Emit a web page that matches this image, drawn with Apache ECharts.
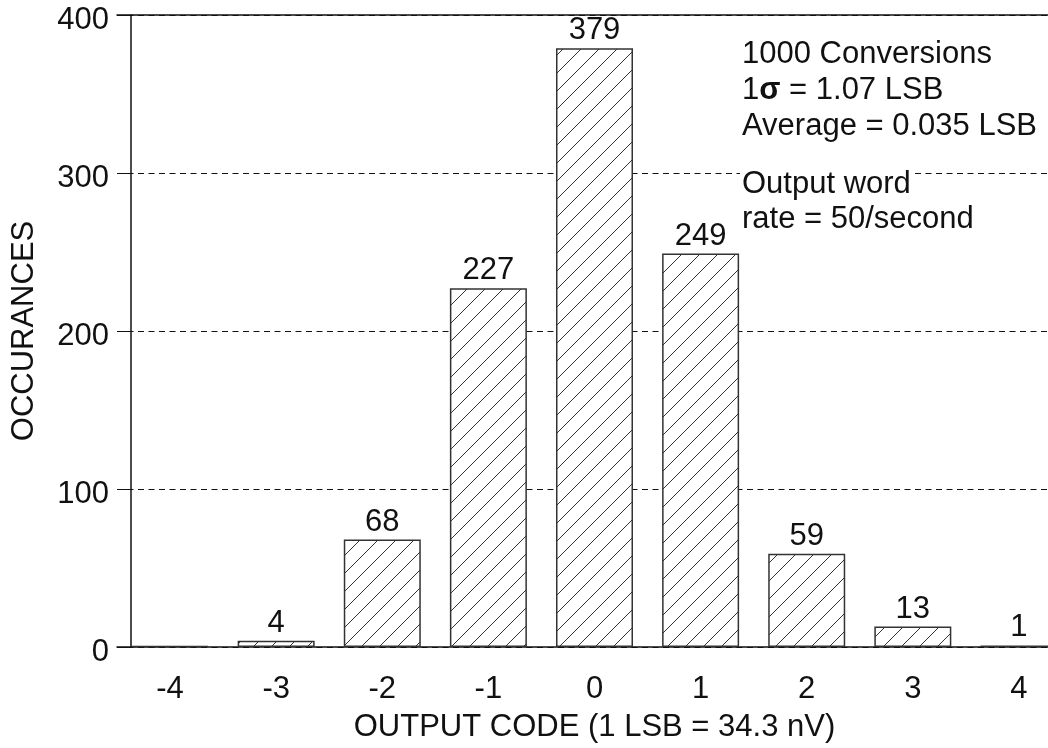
<!DOCTYPE html>
<html>
<head>
<meta charset="utf-8">
<script src="https://cdn.jsdelivr.net/npm/echarts@6/dist/echarts.min.js"></script>
<style>
  html, body { margin: 0; padding: 0; background: #fff; }
  #chart { width: 1048px; height: 748px; }
</style>
</head>
<body>
<div id="chart"></div>
<script>
// data
const codes = ['-4', '-3', '-2', '-1', '0', '1', '2', '3', '4'];
const occurrences = [0, 4, 68, 227, 379, 249, 59, 13, 1];
const yMin = 0;
const yMax = 400;
const yStep = 100;
const noteLines = ['1000 Conversions', '1{s|σ} = 1.07 LSB', 'Average = 0.035 LSB', 'Output word', 'rate = 50/second'];
const noteY = [54, 90, 126, 184, 219];

const FONT = '"Liberation Sans", Arial, sans-serif';
const INK = '#111';
const FS = 31;

// diagonal hatch fill for the bars
const hatch = document.createElement('canvas');
hatch.width = 18;
hatch.height = 18;
const hctx = hatch.getContext('2d');
hctx.fillStyle = '#fff';
hctx.fillRect(0, 0, 18, 18);
hctx.strokeStyle = '#333';
hctx.lineWidth = 1;
hctx.beginPath();
hctx.moveTo(-1, 19); hctx.lineTo(19, -1);
hctx.moveTo(-3, 3); hctx.lineTo(3, -3);
hctx.moveTo(15, 21); hctx.lineTo(21, 15);
hctx.stroke();

const chart = echarts.init(document.getElementById('chart'));

const option = {
  animation: false,
  backgroundColor: '#fff',
  textStyle: { fontFamily: FONT },
  grid: { left: 117, right: -24, top: 15, bottom: 101, outerBoundsMode: 'none' },
  xAxis: [
    {
      type: 'category',
      data: codes,
      position: 'bottom',
      name: 'OUTPUT CODE (1 LSB = 34.3 nV)',
      nameLocation: 'middle',
      nameGap: 65,
      nameTextStyle: { fontSize: FS, color: INK, fontFamily: FONT },
      axisLine: { lineStyle: { color: INK, width: 1.5 } },
      axisTick: { alignWithLabel: true, length: 11, lineStyle: { color: INK, width: 1 } },
      axisLabel: { fontSize: FS, color: INK, margin: 27, fontFamily: FONT },
      splitLine: { show: false }
    },
    {
      type: 'category',
      data: codes,
      position: 'top',
      axisLine: { lineStyle: { color: INK, width: 1.5 } },
      axisTick: { show: false },
      axisLabel: { show: false },
      splitLine: { show: false }
    }
  ],
  yAxis: {
    type: 'value',
    min: yMin,
    max: yMax,
    interval: yStep,
    offset: -14,
    name: 'OCCURANCES',
    nameLocation: 'middle',
    nameGap: 91,
    nameTextStyle: { fontSize: FS, color: INK, fontFamily: FONT },
    axisLine: { show: true, lineStyle: { color: INK, width: 1.5 } },
    axisTick: { show: true, length: 12, lineStyle: { color: INK, width: 1 } },
    axisLabel: {
      fontSize: FS,
      color: INK,
      margin: 22,
      fontFamily: FONT,
      formatter: v => '{v|' + v + '}',
      rich: { v: { fontSize: FS, fontFamily: FONT, color: INK, padding: [11, 0, 0, 0] } }
    },
    splitLine: { show: true, lineStyle: { color: INK, width: 1, type: [6, 4.5] } }
  },
  series: [
    {
      type: 'bar',
      xAxisIndex: 0,
      data: occurrences,
      barWidth: 77,
      barMinHeight: 1,
      itemStyle: {
        color: { image: hatch, repeat: 'repeat' },
        borderColor: '#333',
        borderWidth: 1.5
      },
      label: {
        show: true,
        position: 'top',
        distance: 2,
        fontSize: FS,
        color: INK,
        fontFamily: FONT,
        formatter: p => (p.value ? String(p.value) : '')
      }
    }
  ],
  graphic: noteLines.map((t, i) => ({
    type: 'text',
    z: 100,
    x: 740,
    y: noteY[i],
    style: {
      text: t,
      fontSize: FS,
      fontFamily: FONT,
      fill: INK,
      verticalAlign: 'middle',
      backgroundColor: '#fff',
      padding: [0, 2],
      rich: { s: { fontSize: FS, fontFamily: FONT, fontWeight: 'bold', fill: INK } }
    }
  }))
};

chart.setOption(option);
</script>
</body>
</html>
